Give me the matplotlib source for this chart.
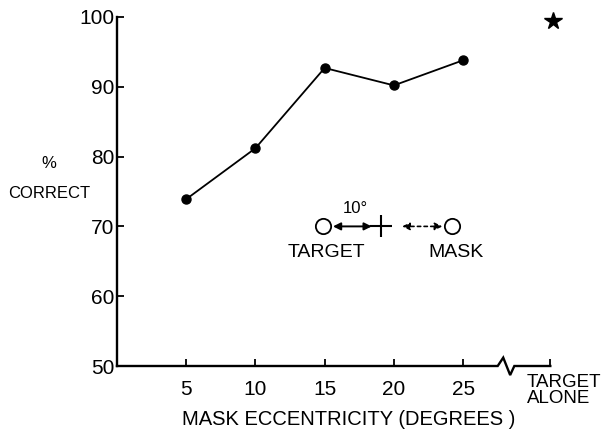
import matplotlib.pyplot as plt
import numpy as np

plt.rcParams['font.family'] = ['Liberation Sans', 'DejaVu Sans']

# data
eccentricity = [5, 10, 15, 20, 25]
pct_correct = [73.9, 81.2, 92.7, 90.2, 93.8]
target_alone_x = 31.5
target_alone_pct = 99.4
x_ticks = [5, 10, 15, 20, 25, 31.3]
x_ticklabels = ['5', '10', '15', '20', '25', '']
y_ticks = [50, 60, 70, 80, 90, 100]

fig = plt.figure(figsize=(6.01, 4.40), dpi=100)
ax = fig.add_axes([117 / 601, 74 / 440, 443 / 601, 349 / 440])

ax.plot(eccentricity, pct_correct, color='black', lw=1.3, marker='o', ms=6.5, zorder=3)
ax.plot([target_alone_x], [target_alone_pct], marker='*', ms=13, color='black',
        ls='none', clip_on=False)

ax.set_xlim(0, 32)
ax.set_ylim(50, 100)
ax.set_yticks(y_ticks)
ax.set_xticks(x_ticks)
ax.set_xticklabels(x_ticklabels)

for s in ['top', 'right', 'bottom']:
    ax.spines[s].set_visible(False)
ax.spines['left'].set_linewidth(1.7)

# bottom axis with a break before "target alone"
ax.plot([0, 27.5, 27.9, 28.4, 28.7, 31.3], [50, 50, 51.2, 48.7, 50, 50],
        color='black', lw=1.7, clip_on=False, solid_joinstyle='miter')

ax.tick_params(axis='y', direction='in', length=5, width=1.3, labelsize=15, pad=2)
ax.tick_params(axis='x', direction='in', length=5, width=1.3, labelsize=15, pad=10)

ax.text(29.6, 48.9, 'TARGET\nALONE', ha='left', va='top', fontsize=13.5,
        linespacing=0.95, clip_on=False)
ax.set_xlabel('MASK ECCENTRICITY (DEGREES )', fontsize=14.5)
ax.xaxis.set_label_coords(0.522, -0.125)

fig.text(49 / 601, 1 - 163 / 440, '%', ha='center', va='center', fontsize=12)
fig.text(49 / 601, 1 - 193 / 440, 'CORRECT', ha='center', va='center', fontsize=12)

# inset stimulus sketch
ax.plot([14.9, 24.2], [70, 70], ls='none', marker='o', ms=11, mfc='white',
        mec='black', mew=1.3)
ax.plot([19.1], [70], marker='+', ms=16, color='black', mew=1.5)
ax.annotate('', xy=(18.4, 70), xytext=(15.6, 70),
            arrowprops=dict(arrowstyle='<|-|>', color='black', lw=1.4,
                            mutation_scale=11, shrinkA=0, shrinkB=0))
ax.annotate('', xy=(23.5, 70), xytext=(20.6, 70),
            arrowprops=dict(arrowstyle='<|-|>', color='black', lw=1.2, ls=(0, (2, 2)),
                            mutation_scale=11, shrinkA=0, shrinkB=0))
ax.text(17.2, 72.5, '10°', ha='center', va='center', fontsize=12)
ax.text(15.1, 66.3, 'TARGET', ha='center', va='center', fontsize=14)
ax.text(24.5, 66.3, 'MASK', ha='center', va='center', fontsize=14)

plt.savefig('out.png', dpi=100)
